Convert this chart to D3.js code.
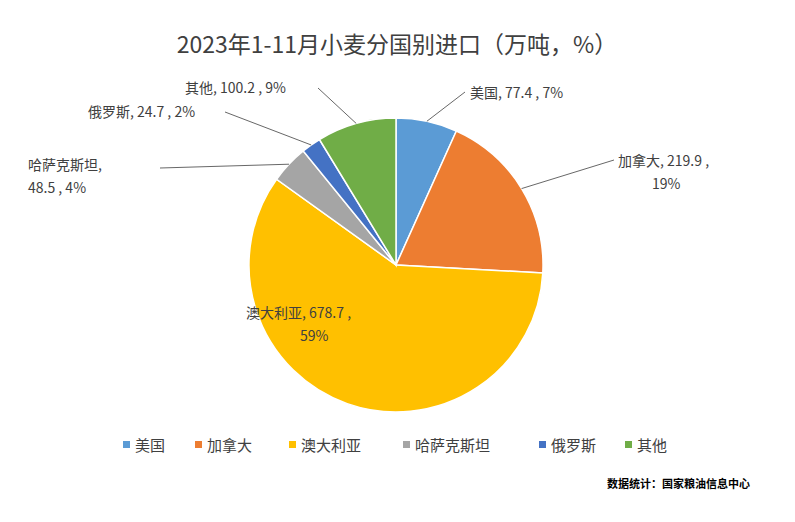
<!DOCTYPE html>
<html><head><meta charset="utf-8">
<script src="https://cdn.jsdelivr.net/npm/d3@7"></script>
<style>body{margin:0;background:#fff;font-family:"Noto Sans CJK SC","Noto Sans",sans-serif;}</style>
</head><body><div id="chart"></div>
<script>
var countries = ["美国", "加拿大", "澳大利亚", "哈萨克斯坦", "俄罗斯", "其他"];
var amounts = [77.4, 219.9, 678.7, 48.5, 24.7, 100.2];
var shares = ["7%", "19%", "59%", "4%", "2%", "9%"];
var colors = ["#5B9BD5", "#ED7D31", "#FFC000", "#A5A5A5", "#4472C4", "#70AD47"];

var w = 795, h = 522, cx = 396, cy = 265, r = 147;
var svg = d3.select("#chart").append("svg").attr("width", w).attr("height", h);

svg.append("text").attr("x", 397).attr("y", 53).attr("text-anchor", "middle")
   .attr("font-size", 23).attr("fill", "#404040").text("2023年1-11月小麦分国别进口（万吨，%）");

var pie = d3.pie().sort(null).value(function(d) { return d; });
var arcs = pie(amounts);
var arc = d3.arc().innerRadius(0).outerRadius(r);
var g = svg.append("g").attr("transform", "translate(" + cx + "," + cy + ")");
g.selectAll("path").data(arcs).enter().append("path")
  .attr("d", arc).attr("fill", function(d, i) { return colors[i]; })
  .attr("stroke", "#fff").attr("stroke-width", 1.5);

// label positions (lines of text) and leader line anchor points
var labels = [
  {lines: ["美国, 77.4 , 7%"], x: 470, y: 98, anchor: "start", lx: 465, ly: 92},
  {lines: ["加拿大, 219.9 ,", "19%"], x: 618, y: 166, anchor: "start", lx: 614, ly: 160, x2: 652},
  {lines: ["澳大利亚, 678.7 ,", "59%"], x: 246, y: 318, anchor: "start", x2: 300},
  {lines: ["哈萨克斯坦,", "48.5 , 4%"], x: 28, y: 170, anchor: "start", lx: 160, ly: 168},
  {lines: ["俄罗斯, 24.7 , 2%"], x: 88, y: 117, anchor: "start", lx: 225, ly: 112},
  {lines: ["其他, 100.2 , 9%"], x: 185, y: 93, anchor: "start", lx: 318, ly: 88}
];

labels.forEach(function(l, i) {
  var t = svg.append("text").attr("font-size", 14).attr("fill", "#404040");
  l.lines.forEach(function(s, k) {
    t.append("tspan").attr("x", k === 0 ? l.x : (l.x2 || l.x)).attr("y", l.y + k * 23).text(s);
  });
  if (l.lx !== undefined) {
    var a = (arcs[i].startAngle + arcs[i].endAngle) / 2;
    var px = cx + Math.sin(a) * r, py = cy - Math.cos(a) * r;
    svg.append("line").attr("x1", l.lx).attr("y1", l.ly).attr("x2", px).attr("y2", py)
       .attr("stroke", "#404040").attr("stroke-width", 0.8);
  }
});

// legend
var lx = [123, 195, 289, 403, 539, 625];
var leg = svg.selectAll(".leg").data(countries).enter().append("g")
  .attr("transform", function(d, i) { return "translate(" + lx[i] + ",445)"; });
leg.append("rect").attr("x", 0).attr("y", -4).attr("width", 7).attr("height", 7)
  .attr("fill", function(d, i) { return colors[i]; });
leg.append("text").attr("x", 12).attr("y", 6).attr("font-size", 15).attr("fill", "#404040")
  .text(function(d) { return d; });

svg.append("text").attr("x", 750).attr("y", 488).attr("text-anchor", "end")
   .attr("font-size", 11).attr("font-weight", "bold").attr("fill", "#000")
   .text("数据统计：国家粮油信息中心");
</script></body></html>
